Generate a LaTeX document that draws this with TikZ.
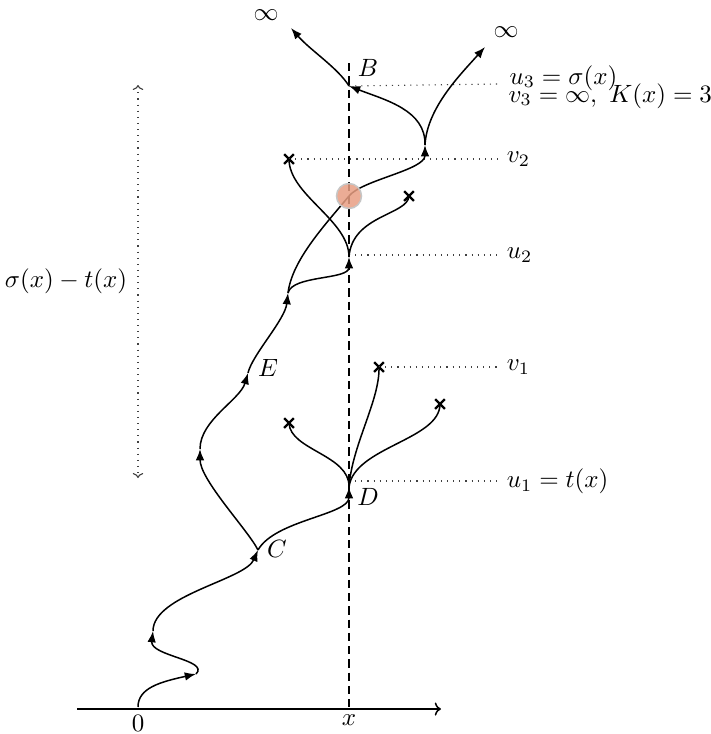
\documentclass[tikz,border=0pt]{standalone}
\usetikzlibrary{arrows.meta,shapes.misc}
\definecolor{blob}{RGB}{232,158,130}
\begin{document}
\begin{tikzpicture}[x=0.4pt,y=0.4pt,
  every node/.style={font=\fontsize{9.8}{11.5}\selectfont},
  curve/.style={line width=0.6pt},
  arr/.style={curve,-{Latex[length=4.5pt,width=3.4pt]}},
  guide/.style={dotted,line width=0.45pt,black!75},
  xmark/.style={cross out,draw,line width=0.9pt,minimum size=3pt,inner sep=0pt},
  lbl/.style={inner sep=0pt}]
\useasboundingbox (0,0) rectangle (711,-734);
% axis and vertical
\coordinate (axL) at (77,-709);
\coordinate (axR) at (441,-709);
\coordinate (vtop) at (349,-63);
\coordinate (vbot) at (349,-709);
\draw[line width=0.6pt,-{To[length=2.5pt]}] (axL) -- (axR);
\draw[line width=0.55pt,dash pattern=on 3.3pt off 2pt] (vtop) -- (vbot);
\node at (138,-723) {$0$};
\node at (349,-720) {$x$};
% points
\coordinate (P0) at (138,-707);
\coordinate (P1) at (196,-674);
\coordinate (P2) at (153,-631);
\coordinate (C) at (258,-550);
\coordinate (P3) at (200,-449);
\coordinate (E) at (248,-373);
\coordinate (P4) at (288,-293);
\coordinate (U2) at (349,-257);
\coordinate (O) at (349,-196);
\coordinate (P5) at (425,-145);
\coordinate (B) at (349,-86);
\coordinate (I1) at (291,-28);
\coordinate (I2) at (485,-47);
\coordinate (D) at (349,-487);
\node[xmark] (X1) at (289,-423) {};
\node[xmark] (X2) at (379,-367) {};
\node[xmark] (X3) at (440,-404) {};
\node[xmark] (X4) at (289,-159) {};
\node[xmark] (X5) at (409,-196) {};
% guide lines
\coordinate (g1) at (498,-84);
\coordinate (g2) at (498,-159);
\coordinate (g3) at (498,-255);
\coordinate (g4) at (498,-367);
\coordinate (g5) at (498,-481);
\draw[guide] (B) -- (g1);
\draw[guide] (X4.center) -- (g2);
\draw[guide] (349,-255) -- (g3);
\draw[guide] (X2.center) -- (g4);
\draw[guide] (349,-481) -- (g5);
\node[anchor=base west,lbl] at (509,-84) {$u_3=\sigma(x)$};
\node[anchor=base west,lbl] at (508,-102) {$v_3=\infty,\ K(x)=3$};
\node[anchor=west] at (g2) {$v_2$};
\node[anchor=west] at (g3) {$u_2$};
\node[anchor=west] at (g4) {$v_1$};
\node[anchor=west] at (g5) {$u_1=t(x)$};
% left measure
\coordinate (mt) at (138,-85);
\coordinate (mb) at (138,-478);
\draw[guide,{To[length=2pt]}-{To[length=2pt]}] (mt) -- (mb);
\node[anchor=east] at (136,-281) {$\sigma(x)-t(x)$};
% main path
\draw[arr] (P0) .. controls (138,-688) and (160,-682) .. (P1);
\draw[arr] (P1) .. controls (210,-660) and (150,-656) .. (P2);
\draw[arr] (P2) .. controls (153,-595) and (245,-580) .. (C);
\draw[arr] (C) .. controls (248,-530) and (200,-480) .. (P3);
\draw[arr] (P3) .. controls (200,-420) and (240,-400) .. (E);
\draw[arr] (E) .. controls (252,-355) and (285,-320) .. (P4);
\draw[arr] (P4) .. controls (292,-275) and (349,-280) .. (U2);
\draw[curve] (P4) .. controls (292,-260) and (325,-225) .. (O);
\draw[arr] (O) .. controls (362,-180) and (425,-170) .. (P5);
\draw[arr] (P5) .. controls (426,-110) and (385,-100) .. (B);
\draw[arr] (B) .. controls (338,-68) and (310,-50) .. (I1);
\draw[arr] (P5) .. controls (427,-108) and (460,-75) .. (I2);
\draw[arr] (C) .. controls (275,-520) and (349,-515) .. (D);
\draw[curve] (D) .. controls (350,-455) and (290,-450) .. (X1.center);
\draw[curve] (D) .. controls (352,-445) and (380,-400) .. (X2.center);
\draw[curve] (D) .. controls (354,-447) and (440,-440) .. (X3.center);
\draw[curve] (U2) .. controls (349,-220) and (289,-195) .. (X4.center);
\draw[curve] (U2) .. controls (352,-215) and (408,-215) .. (X5.center);
% circle
\node[circle,fill=blob,fill opacity=0.85,draw=gray!45,line width=0.6pt,minimum size=10pt,inner sep=0pt] (Oc) at (O) {};
% labels
\node at (368,-68) {$B$};
\node at (368,-497) {$D$};
\node at (268,-368) {$E$};
\node at (277,-549) {$C$};
\node at (266,-15) {$\infty$};
\node at (506,-32) {$\infty$};
\end{tikzpicture}
\end{document}
